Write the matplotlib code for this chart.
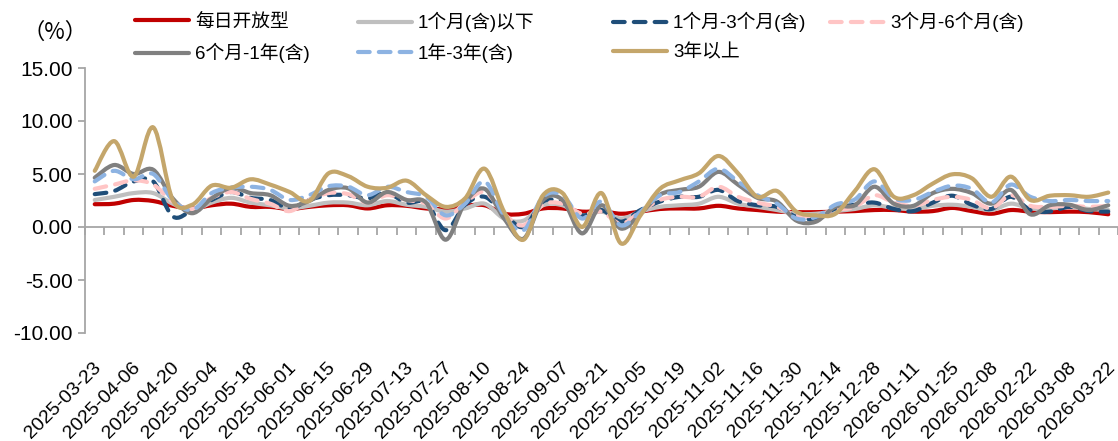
import numpy as np
import matplotlib
matplotlib.use("Agg")
import matplotlib.pyplot as plt
from matplotlib.path import Path
from matplotlib.patches import PathPatch
from matplotlib.lines import Line2D
from matplotlib.transforms import ScaledTranslation

plt.rcParams['font.family'] = ['Liberation Sans', 'Noto Sans CJK SC', 'DejaVu Sans']

# ---------------- data ----------------
dates = ["2025-03-23", "2025-03-30", "2025-04-06", "2025-04-13", "2025-04-20", "2025-04-27",
         "2025-05-04", "2025-05-11", "2025-05-18", "2025-05-25", "2025-06-01", "2025-06-08",
         "2025-06-15", "2025-06-22", "2025-06-29", "2025-07-06", "2025-07-13", "2025-07-20",
         "2025-07-27", "2025-08-03", "2025-08-10", "2025-08-17", "2025-08-24", "2025-08-31",
         "2025-09-07", "2025-09-14", "2025-09-21", "2025-09-28", "2025-10-05", "2025-10-12",
         "2025-10-19", "2025-10-26", "2025-11-02", "2025-11-09", "2025-11-16", "2025-11-23",
         "2025-11-30", "2025-12-07", "2025-12-14", "2025-12-21", "2025-12-28", "2026-01-04",
         "2026-01-11", "2026-01-18", "2026-01-25", "2026-02-01", "2026-02-08", "2026-02-15",
         "2026-02-22", "2026-03-01", "2026-03-08", "2026-03-15", "2026-03-22"]

daily_open = [2.15, 2.2, 2.55, 2.45, 2.0, 1.75, 2.05, 2.2, 1.9, 1.9, 1.7, 1.9, 2.05, 2.05,
              1.75, 2.05, 2.0, 1.75, 1.7, 2.0, 2.05, 1.25, 1.25, 1.75, 1.75, 1.45,
              1.5, 1.25, 1.45, 1.7, 1.75, 1.75, 2.0, 1.75, 1.6, 1.45, 1.4, 1.4, 1.45,
              1.5, 1.6, 1.6, 1.45, 1.5, 1.8, 1.5, 1.25, 1.6, 1.45, 1.4, 1.45, 1.4, 1.2]
under_1m = [2.55, 2.85, 3.2, 3.2, 2.2, 1.6, 2.3, 2.75, 2.3, 2.05, 1.75, 2.0, 2.3, 2.3,
            2.05, 2.45, 2.1, 1.9, 1.45, 1.75, 2.2, 0.8, 0.6, 2.05, 2.05, 1.1,
            1.45, 0.8, 1.45, 1.9, 2.05, 2.2, 2.85, 2.2, 1.9, 1.6, 1.25, 1.25, 1.5,
            1.7, 2.05, 1.8, 1.7, 2.0, 2.1, 1.9, 1.6, 2.2, 1.75, 1.75, 1.9, 1.7, 1.6]
m1_3 = [3.1, 3.4, 4.3, 4.3, 1.0, 1.6, 2.55, 3.3, 2.75, 2.55, 1.75, 2.55, 3.0, 3.0,
        2.7, 3.2, 2.3, 2.3, -0.3, 2.1, 2.85, 1.25, 0.0, 2.4, 2.3, 1.1,
        1.6, 0.5, 1.6, 2.4, 2.85, 2.85, 3.5, 2.45, 2.05, 1.9, 0.95, 0.8, 1.75,
        2.1, 2.3, 1.7, 1.5, 2.3, 2.95, 2.1, 1.7, 2.85, 1.6, 1.45, 1.9, 1.5, 1.45]
m3_6 = [3.6, 4.0, 4.4, 4.0, 2.4, 1.7, 2.75, 3.3, 2.65, 2.2, 1.5, 2.55, 3.2, 3.1,
        2.3, 3.0, 2.55, 2.2, 0.8, 2.3, 3.3, 1.25, 0.15, 2.1, 2.2, 1.25,
        1.45, 0.3, 1.45, 2.55, 2.85, 2.85, 3.8, 2.85, 2.3, 1.9, 1.1, 1.1, 1.6,
        1.9, 3.0, 2.3, 2.0, 2.55, 2.85, 2.55, 1.75, 3.0, 2.0, 1.9, 2.0, 1.9, 2.0]
m6_1y = [4.65, 5.85, 5.0, 5.4, 2.7, 1.3, 2.7, 3.7, 3.2, 3.0, 2.0, 2.45, 3.5, 3.65,
         2.3, 3.3, 2.55, 2.3, -1.2, 2.3, 3.6, 0.8, -1.1, 2.55, 2.55, -0.6,
         2.05, -0.15, 1.25, 3.05, 3.5, 3.8, 5.2, 4.0, 2.75, 2.4, 0.6, 0.5, 1.9,
         2.05, 3.8, 2.2, 2.0, 3.2, 3.6, 3.2, 2.2, 3.5, 1.2, 2.05, 2.1, 1.6, 2.05]
y1_3 = [4.3, 5.3, 4.5, 5.0, 2.55, 1.6, 3.2, 3.7, 3.8, 3.5, 2.55, 3.0, 3.85, 3.8,
        3.0, 3.8, 3.3, 2.85, 1.1, 2.2, 4.3, 1.1, -0.3, 2.85, 3.0, 0.8,
        2.4, 0.15, 1.45, 3.0, 3.3, 4.3, 5.5, 4.3, 3.0, 2.2, 0.8, 0.95, 2.1,
        2.6, 4.3, 2.7, 2.55, 3.3, 3.9, 3.6, 2.3, 4.0, 2.85, 2.45, 2.55, 2.45, 2.45]
over_3y = [5.3, 8.1, 4.75, 9.4, 2.55, 2.1, 3.9, 3.7, 4.5, 4.0, 3.3, 2.45, 5.07, 4.8,
           3.8, 3.7, 4.37, 3.0, 1.9, 2.7, 5.5, 1.45, -1.2, 3.0, 3.2, 0.0,
           3.2, -1.55, 1.1, 3.6, 4.4, 5.07, 6.7, 5.07, 2.85, 3.4, 1.45, 1.1, 1.25,
           3.4, 5.45, 2.85, 3.0, 4.1, 4.97, 4.6, 2.85, 4.75, 2.55, 2.95, 3.0, 2.85, 3.25]

series_names = ["每日开放型", "1个月(含)以下", "1个月-3个月(含)", "3个月-6个月(含)",
                "6个月-1年(含)", "1年-3年(含)", "3年以上"]
series_values = [daily_open, under_1m, m1_3, m3_6, m6_1y, y1_3, over_3y]
y_ticks = [15, 10, 5, 0, -5, -10]

# ---------------- styles ----------------
colors = ["#C00000", "#BFBFBF", "#1F4E79", "#FFC5C5", "#808080", "#8DB3E2", "#C4A66B"]
dashed = [False, False, True, True, False, True, False]
LW = 3.0
DASH = (0, (2.8, 2.2))


def smooth_path(xs, ys):
    pts = np.column_stack([xs, ys]).astype(float)
    n = len(pts)
    verts = [pts[0]]
    codes = [Path.MOVETO]
    for i in range(n - 1):
        p0 = pts[i - 1] if i > 0 else pts[i]
        p1 = pts[i]
        p2 = pts[i + 1]
        p3 = pts[i + 2] if i + 2 < n else pts[i + 1]
        c1 = p1 + (p2 - p0) / 6.0
        c2 = p2 - (p3 - p1) / 6.0
        verts += [c1, c2, p2]
        codes += [Path.CURVE4] * 3
    return Path(np.array(verts), codes)


fig = plt.figure(figsize=(11.18, 4.41), dpi=100)
ax = fig.add_axes([85 / 1118, (441 - 333) / 441, 1033 / 1118, 265 / 441])

x = np.arange(len(dates))
for vals, col, dsh in zip(series_values, colors, dashed):
    patch = PathPatch(smooth_path(x, vals), fill=False, edgecolor=col, lw=LW,
                      linestyle=DASH if dsh else '-', capstyle='round', joinstyle='round',
                      zorder=2)
    ax.add_patch(patch)

ax.set_xlim(-0.5, len(dates) - 0.5)
ax.set_ylim(-10, 15)

axis_col = "#A6A6A6"
for s in ['top', 'right', 'bottom']:
    ax.spines[s].set_visible(False)
ax.spines['left'].set_color(axis_col)
ax.spines['left'].set_linewidth(1.3)

ax.set_yticks(y_ticks)
ax.set_yticklabels([f"{v:.2f}" for v in y_ticks])
ax.tick_params(axis='y', direction='out', length=5, width=1.3, color=axis_col,
               labelsize=15, pad=4, labelcolor='black')

# date labels every two weeks, at the bottom of the plot
label_idx = x[::2]
ax.set_xticks(label_idx)
ax.set_xticklabels([dates[i] for i in label_idx], rotation=45, ha='right',
                   va='center', rotation_mode='anchor', fontsize=14)
ax.tick_params(axis='x', length=0, pad=23)
off = ScaledTranslation(4 / 100, 0, fig.dpi_scale_trans)
for lab in ax.get_xticklabels():
    lab.set_transform(lab.get_transform() + off)

# zero axis line with category tick marks
sec = ax.secondary_xaxis(0, transform=ax.transData)
sec.set_zorder(1)
sec.spines['bottom'].set_color(axis_col)
sec.spines['bottom'].set_linewidth(1.3)
sec.set_xticks(np.arange(-0.5, len(dates), 1.0))
sec.set_xticklabels([])
sec.tick_params(axis='x', direction='out', length=6, width=1.3, color=axis_col)

# legend entries placed individually
leg_pos = [(135, 22), (358, 22), (613, 22), (830, 22), (135, 53), (358, 53), (613, 53)]
for name, col, dsh, (px, py) in zip(series_names, colors, dashed, leg_pos):
    h = Line2D([], [], color=col, lw=LW, linestyle=DASH if dsh else '-',
               dash_capstyle='round', solid_capstyle='round')
    fig.legend(handles=[h], labels=[name], loc='center left',
               bbox_to_anchor=(px / 1118, 1 - py / 441), frameon=False,
               borderpad=0, borderaxespad=0, handlelength=2.9, handletextpad=0.3,
               fontsize=13.5)

fig.text(55 / 1118, 1 - 32 / 441, "（%）", ha='center', va='center', fontsize=16,
         family=['Noto Sans CJK SC', 'DejaVu Sans'])

fig.savefig("out.png", dpi=100)
